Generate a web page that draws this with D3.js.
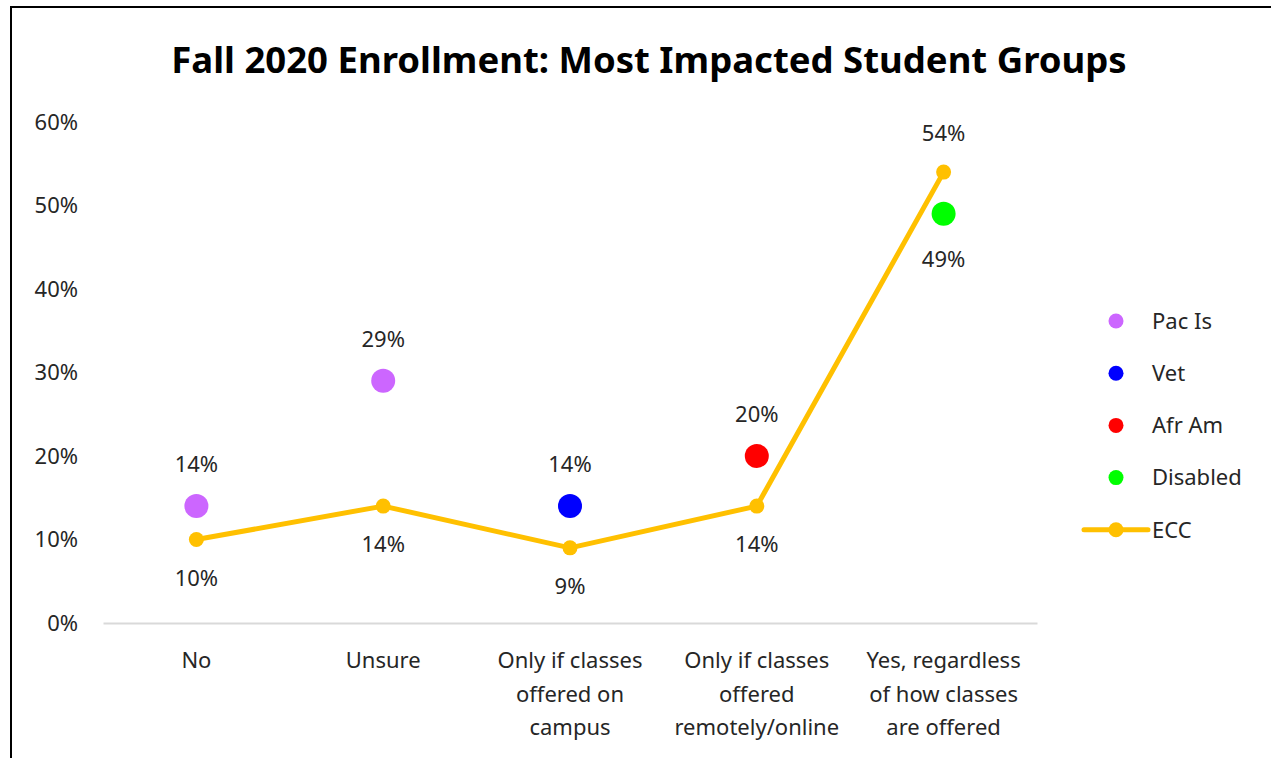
<!DOCTYPE html>
<meta charset="utf-8">
<style>
body { margin: 0; background: #fff; }
text { font-family: "Noto Sans", sans-serif; fill: #262626; }
.axis--y path, .axis--y line { display: none; }
.axis--x path { stroke: #d9d9d9; stroke-width: 2; }
.axis--x line { display: none; }
</style>
<svg width="1271" height="758"></svg>
<script src="https://cdn.jsdelivr.net/npm/d3@7"></script>
<script>
var categories = [
  "No",
  "Unsure",
  "Only if classes offered on campus",
  "Only if classes offered remotely/online",
  "Yes, regardless of how classes are offered"
];
var catLines = [
  ["No"],
  ["Unsure"],
  ["Only if classes", "offered on", "campus"],
  ["Only if classes", "offered", "remotely/online"],
  ["Yes, regardless", "of how classes", "are offered"]
];
// one highlighted group per category
var groupNames = ["Pac Is", "Pac Is", "Vet", "Afr Am", "Disabled"];
var groupValues = [14, 29, 14, 20, 49];
var eccValues = [10, 14, 9, 14, 54];
var legendNames = ["Pac Is", "Vet", "Afr Am", "Disabled", "ECC"];
var colors = {"Pac Is": "#cc66ff", "Vet": "#0000ff", "Afr Am": "#ff0000", "Disabled": "#00ff00", "ECC": "#ffc000"};
var yTicks = [0, 10, 20, 30, 40, 50, 60];

var svg = d3.select("svg"),
    margin = {top: 122, left: 103, right: 234, bottom: 135},
    width = +svg.attr("width") - margin.left - margin.right,
    height = +svg.attr("height") - margin.top - margin.bottom;

// outer frame
svg.append("rect")
    .attr("x", 11).attr("y", 7)
    .attr("width", 1271).attr("height", 800)
    .attr("fill", "none")
    .attr("stroke", "#000")
    .attr("stroke-width", 2);

svg.append("text")
    .attr("x", 649).attr("y", 73)
    .attr("text-anchor", "middle")
    .style("font-size", "36.5px")
    .style("font-weight", "bold")
    .style("fill", "#000")
    .text("Fall 2020 Enrollment: Most Impacted Student Groups");

var x = d3.scaleBand().domain(categories).range([0, width]),
    y = d3.scaleLinear().domain([0, 60]).range([height, 0]);

var g = svg.append("g")
    .attr("transform", "translate(" + margin.left + "," + margin.top + ")");

var yAxis = g.append("g")
    .attr("class", "axis axis--y")
    .call(d3.axisLeft(y).tickValues(yTicks).tickFormat(function(d) { return d + "%"; }).tickSize(0).tickPadding(25));
yAxis.selectAll("text").style("font-size", "22px").style("fill", "#262626").style("font-family", "Noto Sans");

var xAxis = g.append("g")
    .attr("class", "axis axis--x")
    .attr("transform", "translate(0," + height + ")")
    .call(d3.axisBottom(x).tickSize(0).tickFormat(""));

var cx = function(i) { return x(categories[i]) + x.bandwidth() / 2; };

catLines.forEach(function(lines, i) {
  var t = g.append("text")
      .attr("x", cx(i))
      .attr("y", height + 45)
      .attr("text-anchor", "middle")
      .style("font-size", "22px");
  lines.forEach(function(s, j) {
    t.append("tspan").attr("x", cx(i)).attr("dy", j === 0 ? 0 : 33.5).text(s);
  });
});

// ECC line
var line = d3.line()
    .x(function(d, i) { return cx(i); })
    .y(function(d) { return y(d); });

g.append("path")
    .datum(eccValues)
    .attr("fill", "none")
    .attr("stroke", colors.ECC)
    .attr("stroke-width", 5)
    .attr("stroke-linejoin", "round")
    .attr("d", line);

g.selectAll(".ecc-dot")
    .data(eccValues)
    .enter().append("circle")
    .attr("class", "ecc-dot")
    .attr("cx", function(d, i) { return cx(i); })
    .attr("cy", function(d) { return y(d); })
    .attr("r", 7.5)
    .attr("fill", colors.ECC);

g.selectAll(".ecc-label")
    .data(eccValues)
    .enter().append("text")
    .attr("class", "ecc-label")
    .attr("x", function(d, i) { return cx(i); })
    .attr("y", function(d, i) { return i === 4 ? y(d) - 31 : y(d) + 46; })
    .attr("text-anchor", "middle")
    .style("font-size", "22px")
    .text(function(d) { return d + "%"; });

// group dots
g.selectAll(".grp-dot")
    .data(groupValues)
    .enter().append("circle")
    .attr("class", "grp-dot")
    .attr("cx", function(d, i) { return cx(i); })
    .attr("cy", function(d) { return y(d); })
    .attr("r", 12)
    .attr("fill", function(d, i) { return colors[groupNames[i]]; });

g.selectAll(".grp-label")
    .data(groupValues)
    .enter().append("text")
    .attr("class", "grp-label")
    .attr("x", function(d, i) { return cx(i); })
    .attr("y", function(d, i) { return i === 4 ? y(d) + 53 : y(d) - 34; })
    .attr("text-anchor", "middle")
    .style("font-size", "22px")
    .text(function(d) { return d + "%"; });

// legend
var legend = svg.append("g").attr("transform", "translate(1116,321)");
var item = legend.selectAll(".item")
    .data(legendNames)
    .enter().append("g")
    .attr("class", "item")
    .attr("transform", function(d, i) { return "translate(0," + i * 52.2 + ")"; });

item.filter(function(d) { return d === "ECC"; })
    .append("line")
    .attr("x1", -32).attr("x2", 32)
    .attr("stroke", colors.ECC)
    .attr("stroke-width", 5)
    .attr("stroke-linecap", "round");

item.append("circle")
    .attr("r", 7.5)
    .attr("fill", function(d) { return colors[d]; });

item.append("text")
    .attr("x", 36)
    .attr("dy", "0.35em")
    .style("font-size", "22px")
    .text(function(d) { return d; });
</script>
